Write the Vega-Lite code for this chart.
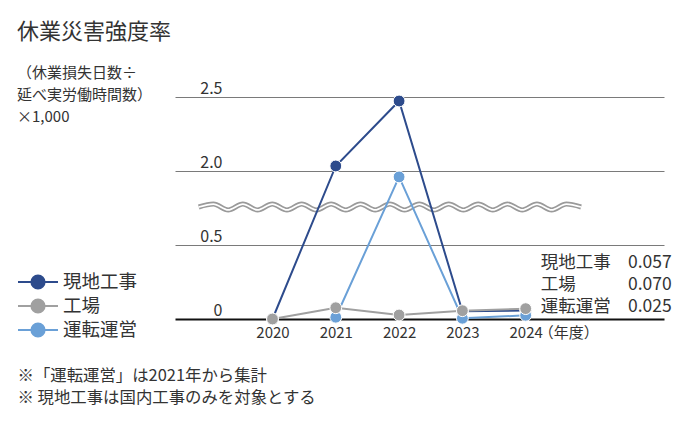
{
  "$schema": "https://vega.github.io/schema/vega-lite/v6.json",
  "description": "休業災害強度率 (2020-2024年度)",
  "width": 489,
  "height": 222,
  "autosize": {"type": "none"},
  "padding": {"left": 175, "top": 97, "right": 26, "bottom": 109},
  "title": {
    "text": "休業災害強度率",
    "subtitle": ["（休業損失日数÷", "延べ実労働時間数）", "×1,000"],
    "anchor": "start",
    "frame": "group",
    "dx": -158,
    "offset": -46,
    "fontSize": 22,
    "fontWeight": "normal",
    "color": "#333333",
    "subtitleFontSize": 15,
    "subtitleColor": "#333333",
    "subtitleLineHeight": 22,
    "subtitlePadding": 22
  },
  "datasets": {
    "rates": [
      {"系列": "現地工事", "年度": 2020, "強度率": 0},
      {"系列": "現地工事", "年度": 2021, "強度率": 2.034},
      {"系列": "現地工事", "年度": 2022, "強度率": 2.473},
      {"系列": "現地工事", "年度": 2023, "強度率": 0.052},
      {"系列": "現地工事", "年度": 2024, "強度率": 0.057},
      {"系列": "運転運営", "年度": 2021, "強度率": 0.012},
      {"系列": "運転運営", "年度": 2022, "強度率": 1.88},
      {"系列": "運転運営", "年度": 2023, "強度率": 0.005},
      {"系列": "運転運営", "年度": 2024, "強度率": 0.025},
      {"系列": "工場", "年度": 2020, "強度率": 0},
      {"系列": "工場", "年度": 2021, "強度率": 0.076},
      {"系列": "工場", "年度": 2022, "強度率": 0.027},
      {"系列": "工場", "年度": 2023, "強度率": 0.056},
      {"系列": "工場", "年度": 2024, "強度率": 0.070}
    ],
    "wave": [
      {"x": 2018.835, "y": 1.27},
      {"x": 2019.067, "y": 1.33},
      {"x": 2019.300, "y": 1.21},
      {"x": 2019.532, "y": 1.33},
      {"x": 2019.764, "y": 1.21},
      {"x": 2019.997, "y": 1.33},
      {"x": 2020.229, "y": 1.21},
      {"x": 2020.461, "y": 1.33},
      {"x": 2020.693, "y": 1.21},
      {"x": 2020.926, "y": 1.33},
      {"x": 2021.158, "y": 1.21},
      {"x": 2021.390, "y": 1.33},
      {"x": 2021.623, "y": 1.21},
      {"x": 2021.855, "y": 1.33},
      {"x": 2022.087, "y": 1.21},
      {"x": 2022.320, "y": 1.33},
      {"x": 2022.552, "y": 1.21},
      {"x": 2022.784, "y": 1.33},
      {"x": 2023.016, "y": 1.21},
      {"x": 2023.249, "y": 1.33},
      {"x": 2023.481, "y": 1.21},
      {"x": 2023.713, "y": 1.33},
      {"x": 2023.946, "y": 1.21},
      {"x": 2024.178, "y": 1.33},
      {"x": 2024.410, "y": 1.21},
      {"x": 2024.643, "y": 1.33},
      {"x": 2024.875, "y": 1.27}
    ]
  },
  "layer": [
    {
      "data": {"name": "rates"},
      "mark": {"type": "rule", "opacity": 0},
      "encoding": {
        "x": {
          "field": "年度",
          "type": "quantitative",
          "scale": {"domain": [2018.46, 2026.185], "nice": false, "zero": false},
          "axis": {
            "values": [2020, 2021, 2022, 2023, 2024],
            "format": "d",
            "grid": false,
            "domain": false,
            "ticks": false,
            "labelFontSize": 15,
            "labelColor": "#333333",
            "labelPadding": 6,
            "labelFlush": false,
            "title": ["※「運転運営」は2021年から集計", "※ 現地工事は国内工事のみを対象とする"],
            "titleX": -158,
            "titleY": 48,
            "titleAlign": "left",
            "titleAnchor": "start",
            "titleBaseline": "top",
            "titleFontSize": 16.4,
            "titleFontWeight": "normal",
            "titleColor": "#333333",
            "titleLineHeight": 22
          }
        },
        "y": {
          "field": "強度率",
          "type": "quantitative",
          "scale": {"domain": [0, 0.5, 2, 2.5], "range": [222, 148, 74, 0], "nice": false, "zero": false},
          "axis": {
            "values": [0, 0.5, 2, 2.5],
            "labelExpr": "datum.value == 0 ? '0' : format(datum.value, '.1f')",
            "title": null,
            "domain": false,
            "ticks": false,
            "tickSize": 0,
            "labelPadding": -47,
            "labelAlign": "right",
            "labelBaseline": "alphabetic",
            "labelOffset": -4,
            "labelFontSize": 16,
            "labelColor": "#333333",
            "gridColor": {"condition": {"test": "datum.value == 0", "value": "#111111"}, "value": "#7a7a7a"},
            "gridWidth": {"condition": {"test": "datum.value == 0", "value": 2}, "value": 1}
          }
        }
      }
    },
    {
      "data": {"name": "wave"},
      "mark": {"type": "line", "interpolate": "monotone", "stroke": "#9a9a9a", "strokeWidth": 5},
      "encoding": {
        "x": {"field": "x", "type": "quantitative", "scale": {"domain": [2018.46, 2026.185], "nice": false, "zero": false}},
        "y": {"field": "y", "type": "quantitative", "scale": {"domain": [0, 0.5, 2, 2.5], "range": [222, 148, 74, 0], "nice": false, "zero": false}, "axis": null}
      }
    },
    {
      "data": {"name": "wave"},
      "mark": {"type": "line", "interpolate": "monotone", "stroke": "white", "strokeWidth": 1.8},
      "encoding": {
        "x": {"field": "x", "type": "quantitative", "scale": {"domain": [2018.46, 2026.185], "nice": false, "zero": false}},
        "y": {"field": "y", "type": "quantitative", "scale": {"domain": [0, 0.5, 2, 2.5], "range": [222, 148, 74, 0], "nice": false, "zero": false}, "axis": null}
      }
    },
    {
      "data": {"name": "rates"},
      "mark": {
        "type": "line",
        "strokeWidth": 2,
        "point": {"filled": true, "size": 140, "stroke": "white", "strokeWidth": 1, "opacity": 1}
      },
      "encoding": {
        "x": {"field": "年度", "type": "quantitative", "scale": {"domain": [2018.46, 2026.185], "nice": false, "zero": false}},
        "y": {"field": "強度率", "type": "quantitative", "scale": {"domain": [0, 0.5, 2, 2.5], "range": [222, 148, 74, 0], "nice": false, "zero": false}, "axis": null},
        "color": {
          "field": "系列",
          "type": "nominal",
          "scale": {"domain": ["現地工事", "工場", "運転運営"], "range": ["#2d4b8c", "#a0a0a0", "#6aa0d7"]},
          "legend": {
            "title": null,
            "orient": "none",
            "legendX": -148,
            "legendY": 174,
            "padding": 0,
            "symbolType": "M-2,0H2M0.66,0A0.66,0.66,0,1,1,-0.66,0A0.66,0.66,0,1,1,0.66,0",
            "symbolSize": 400,
            "symbolStrokeWidth": 2,
            "labelOffset": 14,
            "labelFontSize": 18.5,
            "labelColor": "#333333",
            "rowPadding": 2,
            "encode": {
              "symbols": {
                "update": {
                  "fill": {"scale": "color", "field": "value"},
                  "stroke": {"scale": "color", "field": "value"},
                  "strokeWidth": {"value": 2},
                  "opacity": {"value": 1}
                }
              }
            }
          }
        }
      }
    },
    {
      "data": {"values": [{"単位": "（年度）"}]},
      "mark": {"type": "text", "align": "left", "baseline": "middle", "dx": 13, "dy": 14, "fontSize": 15, "color": "#333333"},
      "encoding": {
        "x": {"datum": 2024, "type": "quantitative", "scale": {"domain": [2018.46, 2026.185], "nice": false, "zero": false}},
        "y": {"datum": 0, "type": "quantitative", "scale": {"domain": [0, 0.5, 2, 2.5], "range": [222, 148, 74, 0], "nice": false, "zero": false}, "axis": null},
        "text": {"field": "単位"}
      }
    },
    {
      "data": {"name": "rates"},
      "transform": [{"filter": "datum['年度'] == 2024"}],
      "mark": {"type": "text", "align": "left", "baseline": "middle", "dx": 15, "fontSize": 17.5, "color": "#333333"},
      "encoding": {
        "x": {"datum": 2024, "type": "quantitative", "scale": {"domain": [2018.46, 2026.185], "nice": false, "zero": false}},
        "y": {"field": "系列", "type": "nominal", "scale": {"type": "point", "domain": ["現地工事", "工場", "運転運営"], "range": [165.5, 209.5], "padding": 0}, "axis": null},
        "text": {"field": "系列"}
      }
    },
    {
      "data": {"name": "rates"},
      "transform": [{"filter": "datum['年度'] == 2024"}],
      "mark": {"type": "text", "align": "right", "baseline": "middle", "dx": 146, "fontSize": 17.5, "color": "#333333"},
      "encoding": {
        "x": {"datum": 2024, "type": "quantitative", "scale": {"domain": [2018.46, 2026.185], "nice": false, "zero": false}},
        "y": {"field": "系列", "type": "nominal", "scale": {"type": "point", "domain": ["現地工事", "工場", "運転運営"], "range": [165.5, 209.5], "padding": 0}, "axis": null},
        "text": {"field": "強度率", "format": ".3f"}
      }
    }
  ],
  "resolve": {"scale": {"y": "independent"}},
  "config": {
    "font": "Noto Sans CJK JP",
    "view": {"stroke": null},
    "axis": {"gridOpacity": 1}
  }
}
